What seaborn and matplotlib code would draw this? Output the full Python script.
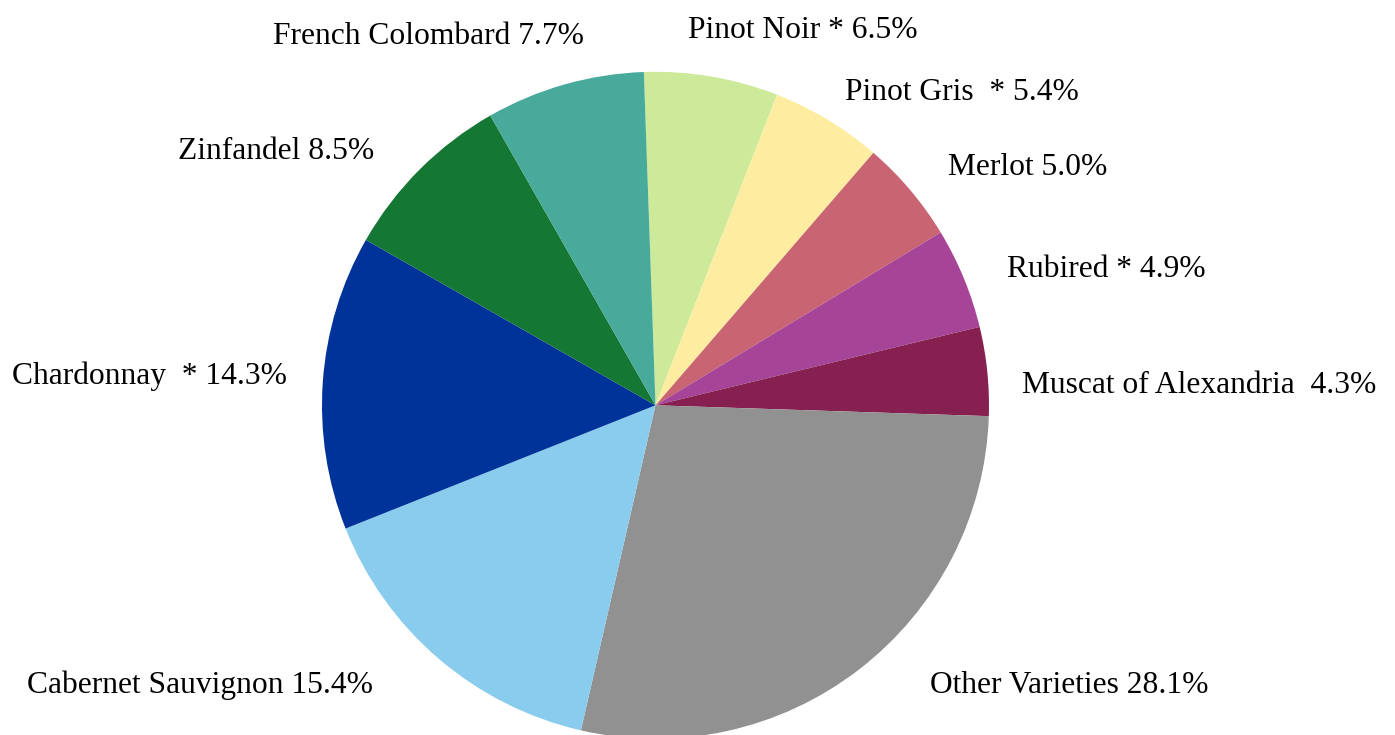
import matplotlib
matplotlib.use("Agg")
import matplotlib.pyplot as plt
import seaborn as sns

# ---- data ----
varieties = ["Pinot Noir *", "Pinot Gris  *", "Merlot", "Rubired *",
             "Muscat of Alexandria ", "Other Varieties", "Cabernet Sauvignon",
             "Chardonnay  *", "Zinfandel", "French Colombard"]
shares = [6.5, 5.4, 5.0, 4.9, 4.3, 28.1, 15.4, 14.3, 8.5, 7.7]

# ---- style ----
colors = ["#CDEA9A", "#FEEDA0", "#C96572", "#A64597", "#852050",
          "#919191", "#89CCEE", "#003399", "#147733", "#48AA9B"]
# label anchor positions (pie radius units) and alignment
label_xy = [(0.0975, 1.1253), (0.5682, 0.9394), (0.8771, 0.7145), (1.0540, 0.4087),
            (1.0990, 0.0579), (0.8231, -0.8387), (-0.8471, -0.8387),
            (-1.1049, 0.0879), (-0.8441, 0.7625), (-0.2144, 1.1073)]
label_ha = ["left", "left", "left", "left", "left", "left", "right",
            "right", "right", "right"]

sns.set_theme(style="white")
plt.rcParams["font.family"] = ["Liberation Serif", "DejaVu Serif"]

fig = plt.figure(figsize=(13.95, 7.35), dpi=100)
ax = fig.add_axes([0, 0, 1, 1])
palette = sns.color_palette(colors)
ax.pie(shares, colors=palette, startangle=92.0, counterclock=False,
       radius=1.0, wedgeprops=dict(linewidth=0))

for name, val, (x, y), ha in zip(varieties, shares, label_xy, label_ha):
    ax.text(x, y, f"{name} {val:.1f}%", ha=ha, va="center",
            fontsize=22.7, color="black")

ax.set_aspect("auto")
ax.set_xlim(-1.9655, 2.2174)
ax.set_ylim(-0.9886, 1.2153)
ax.axis("off")
fig.savefig("out.png", dpi=100, facecolor="white")
